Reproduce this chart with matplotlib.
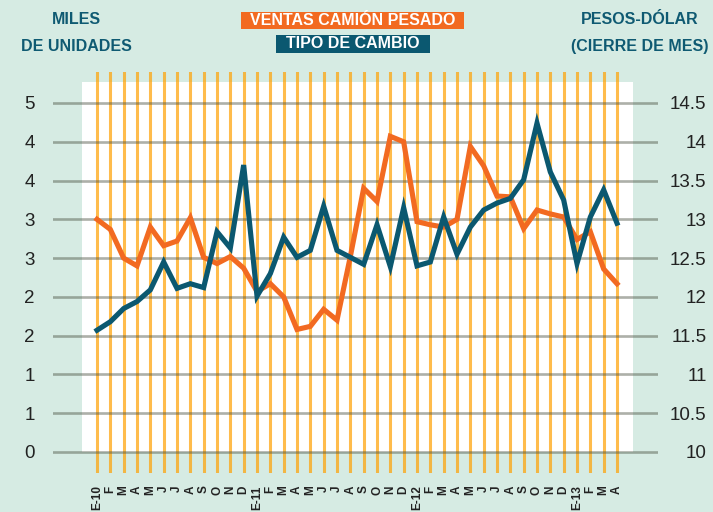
import numpy as np
import matplotlib
matplotlib.use("Agg")
import matplotlib.pyplot as plt
from matplotlib.patches import Rectangle
from matplotlib.ticker import FuncFormatter

# datos (ventas en miles de unidades, tipo de cambio pesos por dolar)
meses = ["E-10", "F", "M", "A", "M", "J", "J", "A", "S", "O", "N", "D",
         "E-11", "F", "M", "A", "M", "J", "J", "A", "S", "O", "N", "D",
         "E-12", "F", "M", "A", "M", "J", "J", "A", "S", "O", "N", "D",
         "E-13", "F", "M", "A"]
ventas = [3.00, 2.87, 2.50, 2.40, 2.90, 2.66, 2.72, 3.02, 2.51, 2.43, 2.52, 2.37,
          2.07, 2.17, 2.00, 1.58, 1.62, 1.84, 1.70, 2.52, 3.40, 3.23, 4.07, 4.00,
          2.97, 2.93, 2.90, 3.00, 3.94, 3.69, 3.30, 3.29, 2.88, 3.12, 3.07, 3.03,
          2.74, 2.84, 2.36, 2.17]
tipo = [11.57, 11.68, 11.85, 11.94, 12.09, 12.45, 12.11, 12.17, 12.12, 12.84, 12.63, 13.70,
        12.01, 12.30, 12.77, 12.51, 12.60, 13.17, 12.60, 12.51, 12.42, 12.93, 12.39, 13.15,
        12.40, 12.45, 13.03, 12.55, 12.90, 13.12, 13.21, 13.27, 13.51, 14.24, 13.61, 13.25,
        12.43, 13.03, 13.38, 12.95]
ticks_izq = np.arange(0, 5.0, 0.5)
ticks_der = np.arange(10, 15.0, 0.5)

BG = "#d6ebe3"
NARANJA = "#f26a21"
AZUL = "#0b5870"
TXT = "#0f5a72"
FAM = ["Liberation Sans", "DejaVu Sans"]

W, H = 713, 512
fig = plt.figure(figsize=(W / 100, H / 100), dpi=100, facecolor=BG)

# ejes en pixeles: x 53..658, y 72..473 ; 0 -> y=452, 4.5 -> y=103
ppu = (452 - 103) / 4.5
ax = fig.add_axes([53 / W, 1 - 473 / H, (658 - 53) / W, (473 - 72) / H])
ax.set_facecolor(BG)
x = np.arange(len(meses))
dx = (617 - 97) / 39
ax.set_xlim((53 - 97) / dx, (658 - 97) / dx)
ax.set_ylim(-(473 - 452) / ppu, (452 - 72) / ppu)
for s in ax.spines.values():
    s.set_visible(False)

# fondo blanco
ax.add_patch(Rectangle(((82 - 97) / dx, 0), (633 - 82) / dx, (452 - 82) / ppu,
                       facecolor="white", edgecolor="none", zorder=0))
for xi in x:
    ax.axvline(xi, color="#ffa000", alpha=0.7, lw=2.2, zorder=1)
for t in ticks_izq:
    ax.axhline(t, color="#4a5040", alpha=0.45, lw=1.9, zorder=2)

ax.plot(x, ventas, color=NARANJA, lw=3.7, zorder=3, solid_joinstyle="miter")

ax.set_yticks(ticks_izq)
ax.yaxis.set_major_formatter(FuncFormatter(lambda v, p: str(int(np.floor(v + 0.5)))))
ax.tick_params(axis="y", length=0, pad=13, labelsize=13.5, labelcolor="#222222")
ax.set_xticks(x)
ax.set_xticklabels(meses, rotation=90, fontsize=8.5, fontweight="bold", color="#222222",
                   family=FAM)
ax.tick_params(axis="x", length=0, pad=9)
for lab in ax.get_yticklabels():
    lab.set_family(FAM)

ax2 = ax.twinx()
ax2.set_ylim(10 + ax.get_ylim()[0], 10 + ax.get_ylim()[1])
for s in ax2.spines.values():
    s.set_visible(False)
ax2.plot(x, tipo, color=AZUL, lw=3.7, zorder=4, solid_joinstyle="miter")
ax2.set_yticks(ticks_der)
ax2.set_yticklabels([f"{t:g}" for t in ticks_der], family=FAM,
                    fontsize=13.5, color="#222222", ha="right")
ax2.tick_params(axis="y", length=0, pad=35)

# encabezados
def ftxt(px, py, s, **kw):
    fig.text(px / W, 1 - py / H, s, ha="center", va="center", family=FAM,
             fontweight="bold", **kw)

ftxt(76, 19, "MILES", fontsize=11.5, color=TXT)
ftxt(76, 46.5, "DE UNIDADES", fontsize=11.5, color=TXT)
ftxt(640, 19, "PESOS-DÓLAR", fontsize=11.5, color=TXT)
ftxt(640, 47, "(CIERRE DE MES)", fontsize=11.5, color=TXT)

fig.patches.append(Rectangle((241 / W, 1 - 29 / H), (464 - 241) / W, 17 / H,
                             transform=fig.transFigure, facecolor=NARANJA, edgecolor="none"))
fig.patches.append(Rectangle((276 / W, 1 - 53 / H), (430 - 276) / W, 18 / H,
                             transform=fig.transFigure, facecolor=AZUL, edgecolor="none"))
ftxt(352.5, 20.5, "VENTAS CAMIÓN PESADO", fontsize=11.5, color="white")
ftxt(353, 44, "TIPO DE CAMBIO", fontsize=11.5, color="white")

fig.savefig("out.png", dpi=100, facecolor=BG)
